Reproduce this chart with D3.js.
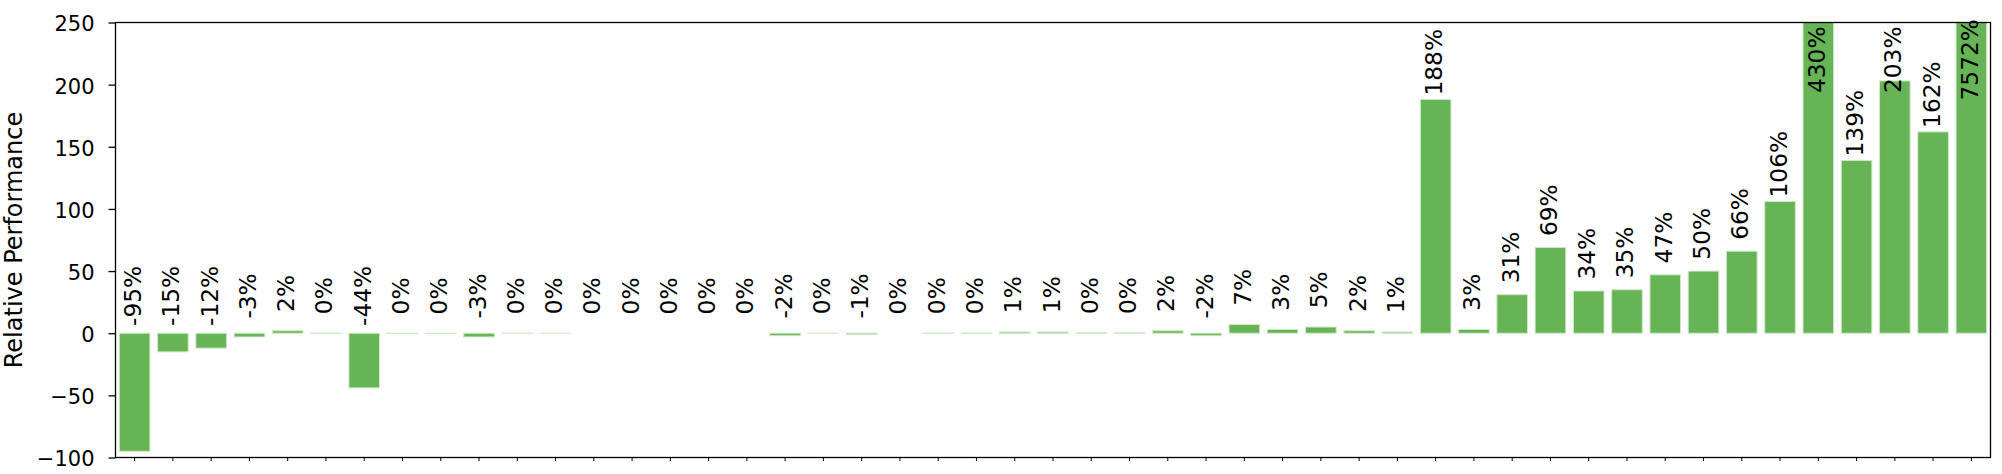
<!DOCTYPE html>
<html>
<head>
<meta charset="utf-8">
<script src="https://cdn.jsdelivr.net/npm/d3@7"></script>
<style>
  body { margin: 0; background: #fff; }
  svg { display: block; font-family: 'DejaVu Sans', sans-serif; }
</style>
</head>
<body>
<svg></svg>
<script>
// values per benchmark (relative performance, %)
const values = [
  -95, -15, -12, -3, 2, 0.2, -44, -0.4, -0.3, -3,
  0.1, 0.05, 0, 0, 0, 0, 0, -2, 0.1, -1,
  0, 0.2, 0.2, 1, 1, 0.3, 0.3, 2, -2, 7,
  3, 5, 2, 1, 188, 3, 31, 69, 34, 35,
  47, 50, 66, 106, 430, 139, 203, 162, 7572
];
const yTicks = [-100, -50, 0, 50, 100, 150, 200, 250];
const yLabel = 'Relative Performance';

const width = 2002;
const height = 474;
const margin = { left: 115.5, top: 22.5, right: 11.5, bottom: 16.5 };
const innerWidth = width - margin.left - margin.right;
const innerHeight = height - margin.top - margin.bottom;

const svg = d3.select('svg').attr('width', width).attr('height', height);
const g = svg.append('g').attr('transform', `translate(${margin.left},${margin.top})`);

const x = d3
  .scaleBand()
  .domain(values.map((d, i) => i))
  .range([0, innerWidth])
  .paddingInner(0.2)
  .paddingOuter(0.1);

const y = d3.scaleLinear().domain([-100, 250]).range([innerHeight, 0]);

svg
  .append('defs')
  .append('clipPath')
  .attr('id', 'plot')
  .append('rect')
  .attr('width', innerWidth)
  .attr('height', innerHeight);

// bars
g.append('g')
  .attr('clip-path', 'url(#plot)')
  .selectAll('rect')
  .data(values)
  .join('rect')
  .attr('x', (d, i) => x(i))
  .attr('width', x.bandwidth())
  .attr('y', (d) => y(Math.max(d, 0)))
  .attr('height', (d) => Math.abs(y(d) - y(0)))
  .attr('fill', '#66b456')
  .attr('stroke', '#cfe9c8')
  .attr('stroke-width', 1);

// bar labels, centred 30 units above the bar top (capped near the frame)
const labelPos = (d) => Math.min(Math.max(d, 0) + 30, 220);
g.append('g')
  .selectAll('text')
  .data(values)
  .join('text')
  .attr('transform', (d, i) => `translate(${x(i) + x.bandwidth() / 2 + 6.5},${y(labelPos(d))}) rotate(-90)`)
  .attr('text-anchor', 'middle')
  .style('font-size', '23.3px')
  .text((d) => `${Math.round(d) === 0 ? 0 : Math.round(d)}%`);

// y axis
const yAxis = d3
  .axisLeft(y)
  .tickValues(yTicks)
  .tickSize(7)
  .tickPadding(14)
  .tickFormat((d) => String(d).replace('-', '\u2212'));
g.append('g')
  .call(yAxis)
  .call((a) => a.select('.domain').remove())
  .call((a) => a.selectAll('line').attr('stroke', '#000').attr('stroke-width', 1.3))
  .call((a) =>
    a
      .selectAll('text')
      .attr('fill', '#000')
      .attr('dy', '0.4em')
      .style('font-size', '21px')
      .style('font-family', "'DejaVu Sans', sans-serif")
  );

// x ticks (no labels)
const xAxis = d3.axisBottom(x).tickSize(3.5).tickFormat('');
g.append('g')
  .attr('transform', `translate(0,${innerHeight})`)
  .call(xAxis)
  .call((a) => a.select('.domain').remove())
  .call((a) => a.selectAll('line').attr('stroke', '#000').attr('stroke-width', 1));

// frame
g.append('rect')
  .attr('width', innerWidth)
  .attr('height', innerHeight)
  .attr('fill', 'none')
  .attr('stroke', '#000')
  .attr('stroke-width', 1.3);

// axis title
svg
  .append('text')
  .attr('transform', `translate(21.7,${margin.top + innerHeight / 2}) rotate(-90)`)
  .attr('text-anchor', 'middle')
  .style('font-size', '24px')
  .text(yLabel);
</script>
</body>
</html>
